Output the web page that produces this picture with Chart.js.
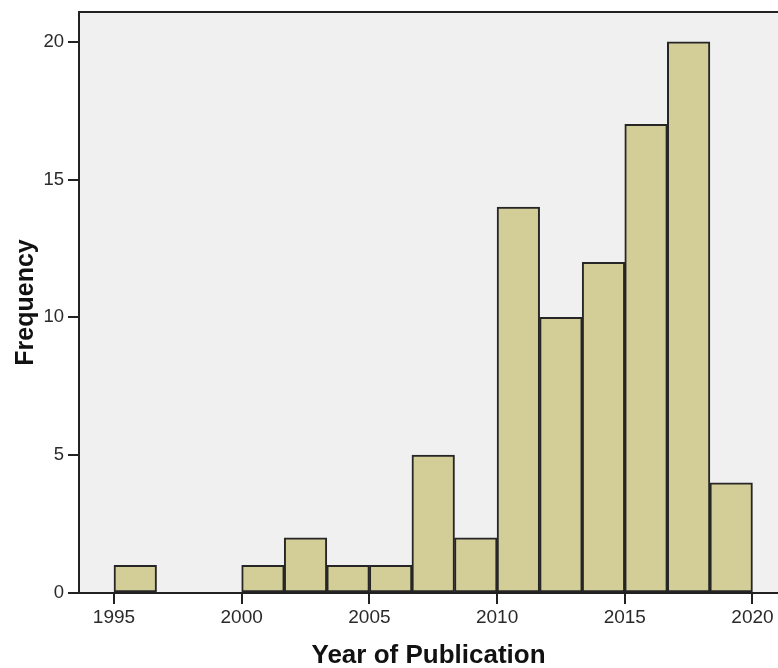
<!DOCTYPE html>
<html>
<head>
<meta charset="utf-8">
<script src="https://cdn.jsdelivr.net/npm/chart.js@4.4.1/dist/chart.umd.min.js"></script>
<style>
  html, body { margin: 0; padding: 0; background: #ffffff; }
  #wrap { width: 778px; height: 668px; position: relative; }
</style>
</head>
<body>
<div id="wrap"><canvas id="c" width="778" height="668"></canvas></div>
<script>
// Histogram bins (bin centres, years) and counts
const binCenters = [1995.8333, 1997.5, 1999.1667, 2000.8333, 2002.5, 2004.1667, 2005.8333, 2007.5,
                    2009.1667, 2010.8333, 2012.5, 2014.1667, 2015.8333, 2017.5, 2019.1667];
const frequencies = [1, 0, 0, 1, 2, 1, 1, 5, 2, 14, 10, 12, 17, 20, 4];
const xTickYears = [1995, 2000, 2005, 2010, 2015, 2020];
const yTickValues = [0, 5, 10, 15, 20];
const xAxisTitle = 'Year of Publication';
const yAxisTitle = 'Frequency';

const plotBg = {
  id: 'plotBg',
  beforeDraw(chart) {
    const { ctx, chartArea: a } = chart;
    ctx.save();
    ctx.fillStyle = '#F0F0F0';
    ctx.fillRect(a.left, a.top, a.right - a.left, a.bottom - a.top);
    ctx.restore();
  },
  afterDraw(chart) {
    const { ctx, chartArea: a } = chart;
    ctx.save();
    ctx.strokeStyle = '#222222';
    ctx.lineWidth = 2;
    ctx.beginPath();
    ctx.moveTo(a.left - 1, a.top);
    ctx.lineTo(a.right, a.top);
    ctx.stroke();
    ctx.restore();
  }
};

new Chart(document.getElementById('c'), {
  type: 'bar',
  data: {
    datasets: [{
      data: binCenters.map((x, i) => ({ x: x, y: frequencies[i] })),
      backgroundColor: '#D3CE97',
      borderColor: '#262626',
      borderWidth: 2,
      borderSkipped: false,
      barPercentage: 1.0,
      categoryPercentage: 1.0
    }]
  },
  options: {
    responsive: false,
    animation: false,
    devicePixelRatio: 1,
    layout: { padding: { top: 12, right: 0, left: 0, bottom: 0 } },
    plugins: { legend: { display: false }, tooltip: { enabled: false } },
    scales: {
      x: {
        type: 'linear',
        min: 1993.63,
        max: 2021.0,
        offset: false,
        afterFit(s) { s.height = 75; s.paddingLeft = 0; s.paddingRight = 0; },
        afterBuildTicks(s) { s.ticks = xTickYears.map(v => ({ value: v })); },
        grid: { offset: false, drawOnChartArea: false, drawTicks: true, tickLength: 11, color: '#222222', lineWidth: 2 },
        border: { display: true, color: '#222222', width: 2 },
        ticks: {
          callback: v => String(v),
          color: '#2a2a2a',
          font: { family: 'Liberation Sans, Arial, sans-serif', size: 19 },
          padding: 2,
          maxRotation: 0
        },
        title: {
          display: true,
          text: xAxisTitle,
          color: '#111111',
          font: { family: 'Liberation Sans, Arial, sans-serif', size: 26, weight: 'bold', lineHeight: 0.9 },
          padding: { top: 0, bottom: 0 }
        }
      },
      y: {
        type: 'linear',
        min: 0,
        max: 21.08,
        afterFit(s) { s.width = 79; s.paddingTop = 0; s.paddingBottom = 0; },
        afterBuildTicks(s) { s.ticks = yTickValues.map(v => ({ value: v })); },
        grid: { drawOnChartArea: false, drawTicks: true, tickLength: 11, color: '#222222', lineWidth: 2 },
        border: { display: true, color: '#222222', width: 2 },
        ticks: {
          callback: v => String(v),
          color: '#2a2a2a',
          font: { family: 'Liberation Sans, Arial, sans-serif', size: 18.5 },
          padding: 4
        },
        title: {
          display: true,
          text: yAxisTitle,
          color: '#111111',
          font: { family: 'Liberation Sans, Arial, sans-serif', size: 25, weight: 'bold' },
          padding: { top: 11, bottom: 0 }
        }
      }
    }
  },
  plugins: [plotBg]
});
</script>
</body>
</html>
